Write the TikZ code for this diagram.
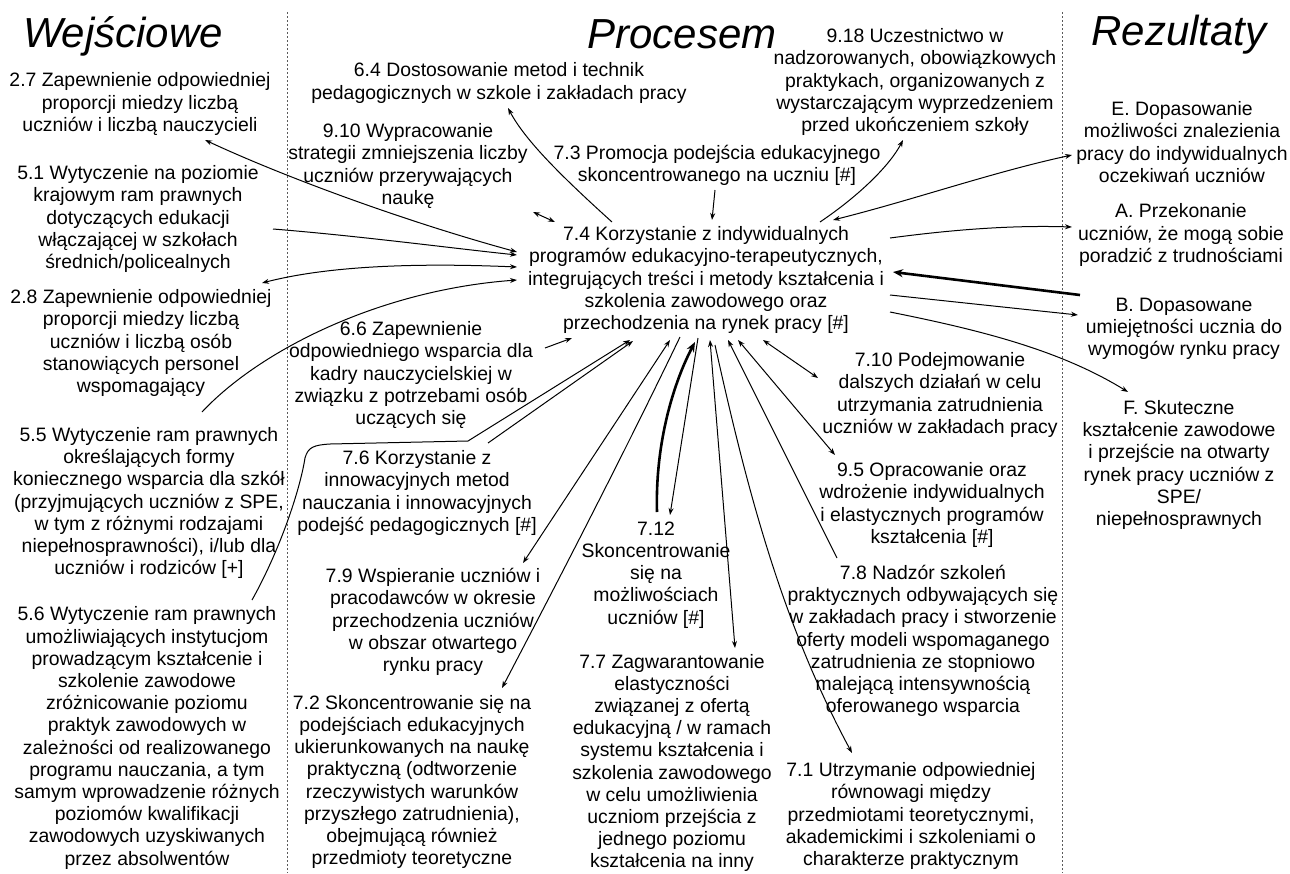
\documentclass[tikz,border=0pt]{standalone}
\usepackage{fontspec}
\setmainfont{Liberation Sans}
\usetikzlibrary{arrows.meta,calc}
\begin{document}
\begin{tikzpicture}[x=1pt,y=-1pt,
  txt/.style={align=center, inner sep=0pt, font=\fontsize{19.4}{22.2}\selectfont},
  ttl/.style={inner sep=0pt, font=\fontsize{42}{48}\selectfont\itshape},
  con/.style={line width=1pt, black},
  arr/.style={con, -{Stealth[length=7pt,width=5pt]}},
  darr/.style={con, {Stealth[length=7pt,width=5pt]}-{Stealth[length=7pt,width=5pt]}},
  thickarr/.style={line width=2.6pt, -{Stealth[length=10pt,width=8pt]}},
  sep/.style={gray!70!black, line width=1pt, dash pattern=on 2pt off 2pt}]
\fill[white] (0,0) rectangle (1290,873);
\useasboundingbox (0,0) rectangle (1290,873);

% separators
\draw[sep] (287,12) -- (287,873);
\draw[sep] (1062,12) -- (1062,873);

% titles
\node[ttl] (tW) at (123,36) {Wejściowe};
\node[ttl] (tP) at (682,34) {Procesem};
\node[ttl] (tR) at (1179,35) {Rezultaty};

% left column
\node[txt] (n27) at (140,104) {2.7 Zapewnienie odpowiedniej\\proporcji miedzy liczbą\\uczniów i liczbą nauczycieli};
\node[txt] (n51) at (138,219) {5.1 Wytyczenie na poziomie\\krajowym ram prawnych\\dotyczących edukacji\\włączającej w szkołach\\średnich/policealnych};
\node[txt] (n28) at (141,343) {2.8 Zapewnienie odpowiedniej\\proporcji miedzy liczbą\\uczniów i liczbą osób\\stanowiących personel\\wspomagający};
\node[txt] (n55) at (149,503) {5.5 Wytyczenie ram prawnych\\określających formy\\koniecznego wsparcia dla szkół\\(przyjmujących uczniów z SPE,\\w tym z różnymi rodzajami\\niepełnosprawności), i/lub dla\\uczniów i rodziców [+]};
\node[txt] (n56) at (147,738) {5.6 Wytyczenie ram prawnych\\umożliwiających instytucjom\\prowadzącym kształcenie i\\szkolenie zawodowe\\zróżnicowanie poziomu\\praktyk zawodowych w\\zależności od realizowanego\\programu nauczania, a tym\\samym wprowadzenie różnych\\poziomów kwalifikacji\\zawodowych uzyskiwanych\\przez absolwentów};

% middle column
\node[txt] (n64) at (499,83) {6.4 Dostosowanie metod i technik\\pedagogicznych w szkole i zakładach pracy};
\node[txt] (n910) at (408,166) {9.10 Wypracowanie\\strategii zmniejszenia liczby\\uczniów przerywających\\naukę};
\node[txt] (n73) at (717,165) {7.3 Promocja podejścia edukacyjnego\\skoncentrowanego na uczniu [\#]};
\node[txt] (n918) at (915,82) {9.18 Uczestnictwo w\\nadzorowanych, obowiązkowych\\praktykach, organizowanych z\\wystarczającym wyprzedzeniem\\przed ukończeniem szkoły};
\node[txt] (n74) at (706,280) {7.4 Korzystanie z indywidualnych\\programów edukacyjno-terapeutycznych,\\integrujących treści i metody kształcenia i\\szkolenia zawodowego oraz\\przechodzenia na rynek pracy [\#]};
\node[txt] (n66) at (411,375) {6.6 Zapewnienie\\odpowiedniego wsparcia dla\\kadry nauczycielskiej w\\związku z potrzebami osób\\uczących się};
\node[txt] (n76) at (417,493) {7.6 Korzystanie z\\innowacyjnych metod\\nauczania i innowacyjnych\\podejść pedagogicznych [\#]};
\node[txt] (n79) at (433,622) {7.9 Wspieranie uczniów i\\pracodawców w okresie\\przechodzenia uczniów\\w obszar otwartego\\rynku pracy};
\node[txt] (n72) at (412,782) {7.2 Skoncentrowanie się na\\podejściach edukacyjnych\\ukierunkowanych na naukę\\praktyczną (odtworzenie\\rzeczywistych warunków\\przyszłego zatrudnienia),\\obejmującą również\\przedmioty teoretyczne};
\node[txt] (n712) at (656,575) {7.12\\Skoncentrowanie\\się na\\możliwościach\\uczniów [\#]};
\node[txt] (n77) at (672,763) {7.7 Zagwarantowanie\\elastyczności\\związanej z ofertą\\edukacyjną / w ramach\\systemu kształcenia i\\szkolenia zawodowego\\w celu umożliwienia\\uczniom przejścia z\\jednego poziomu\\kształcenia na inny};
\node[txt] (n710) at (940,395) {7.10 Podejmowanie\\dalszych działań w celu\\utrzymania zatrudnienia\\uczniów w zakładach pracy};
\node[txt] (n95) at (932,505) {9.5 Opracowanie oraz\\wdrożenie indywidualnych\\i elastycznych programów\\kształcenia [\#]};
\node[txt] (n78) at (923,641) {7.8 Nadzór szkoleń\\praktycznych odbywających się\\w zakładach pracy i stworzenie\\oferty modeli wspomaganego\\zatrudnienia ze stopniowo\\malejącą intensywnością\\oferowanego wsparcia};
\node[txt] (n71) at (911,816) {7.1 Utrzymanie odpowiedniej\\równowagi między\\przedmiotami teoretycznymi,\\akademickimi i szkoleniami o\\charakterze praktycznym};

% right column
\node[txt] (nE) at (1182,142) {E. Dopasowanie\\możliwości znalezienia\\pracy do indywidualnych\\oczekiwań uczniów};
\node[txt] (nA) at (1181,235) {A. Przekonanie\\uczniów, że mogą sobie\\poradzić z trudnościami};
\node[txt] (nB) at (1184,329) {B. Dopasowane\\umiejętności ucznia do\\wymogów rynku pracy};
\node[txt] (nF) at (1179,465) {F. Skuteczne\\kształcenie zawodowe\\i przejście na otwarty\\rynek pracy uczniów z\\SPE/\\niepełnosprawnych};

% connectors (left)
\draw[darr] ($(n74)+(-189,-28)$) .. controls (400,220) and (280,175) .. ($(n27)+(65,36)$);
\draw[arr] ($(n51)+(135,10)$) .. controls (360,236) and (450,248) .. ($(n74)+(-189,-25)$);
\draw[darr] ($(n74)+(-189,-13)$) .. controls (400,262) and (320,268) .. ($(n28)+(121,-60)$);
\draw[arr] ($(n55)+(53,-91)$) .. controls (260,350) and (380,290) .. ($(n74)+(-189,0)$);
\draw[darr] ($(n910)+(125,46)$) -- ($(n74)+(-151,-58)$);
\draw[arr] ($(n74)+(-94,-58)$) .. controls (560,175) and (525,140) .. ($(n64)+(9,25)$);
\draw[arr] ($(n73)+(-2,25)$) -- ($(n74)+(6,-60)$);
\draw[arr] ($(n74)+(114,-58)$) .. controls (860,195) and (890,165) .. ($(n918)+(-12,58)$);

% connectors (right)
\draw[darr] ($(n74)+(127,-60)$) .. controls (913,200) and (993,172) .. ($(nE)+(-110,13)$);
\draw[arr] ($(n74)+(184,-42)$) .. controls (950,230) and (1010,225) .. ($(nA)+(-109,-8)$);
\draw[thickarr] ($(nB)+(-104,-34)$) -- ($(n74)+(187,-8)$);
\draw[arr] ($(n74)+(184,15)$) -- ($(nB)+(-106,-14)$);
\draw[arr] ($(n74)+(184,32)$) .. controls (980,330) and (1060,350) .. ($(nF)+(-51,-73)$);

% connectors (below 7.4)
\draw[arr] ($(n66)+(134,-27)$) -- ($(n74)+(-134,58)$);
\draw[arr] ($(n56)+(105,-138)$) .. controls (280,550) and (300,490) .. (305,458)
   .. controls (308,447) and (314,445) .. (330,444) -- (468,441) -- ($(n74)+(-76,60)$);
\draw[arr] ($(n76)+(71,-50)$) -- ($(n74)+(-73,61)$);
\draw[darr] ($(n74)+(-36,60)$) -- ($(n79)+(90,-59)$);
\draw[arr] ($(n74)+(-26,57)$) .. controls (640,420) and (590,520) .. ($(n72)+(90,-94)$);
\draw[thickarr] ($(n712)+(1,-63)$) .. controls (655,440) and (675,380) .. ($(n74)+(-11,62)$);
\draw[arr] ($(n74)+(-8,58)$) -- ($(n712)+(14,-60)$);
\draw[darr] ($(n74)+(4,60)$) -- ($(n77)+(63,-115)$);
\draw[arr] ($(n74)+(9,65)$) .. controls (745,480) and (780,620) .. ($(n71)+(-59,-63)$);
\draw[arr] ($(n78)+(-86,-83)$) -- ($(n74)+(22,60)$);
\draw[darr] ($(n74)+(32,60)$) -- ($(n95)+(-97,-50)$);
\draw[darr] ($(n74)+(57,60)$) -- ($(n710)+(-122,-17)$);
\end{tikzpicture}
\end{document}
